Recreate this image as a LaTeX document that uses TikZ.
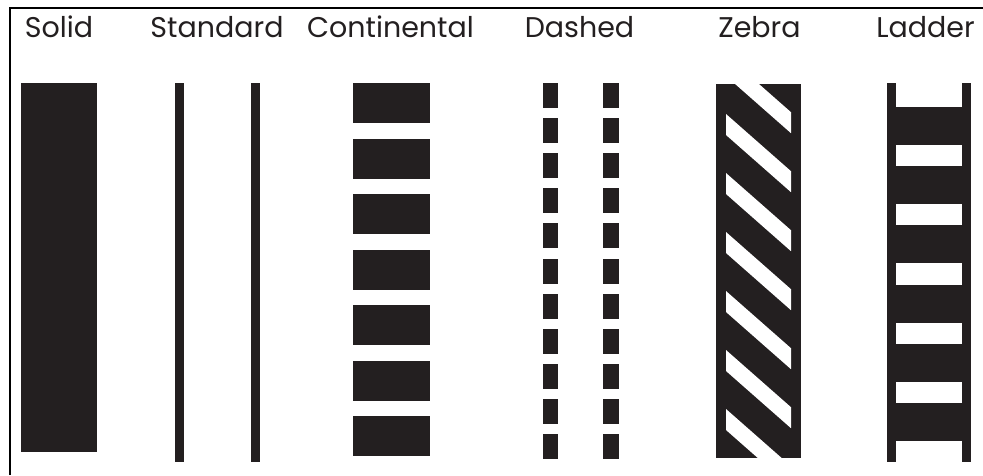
\documentclass[tikz,border=0pt]{standalone}
\usepackage{fontspec}
\setmainfont{Poppins}
\definecolor{ink}{HTML}{231F20}
\begin{document}
\begin{tikzpicture}[x=1pt,y=-1pt,
  paint/.style={fill=ink},
  lbl/.style={anchor=base, inner sep=0pt, font=\fontsize{28.5}{28.5}\selectfont, text=ink},
  frameline/.style={line width=2pt, black}]
\useasboundingbox (0,0) rectangle (983,475);
% frame (only top and left sides visible)
\draw[frameline] (9.5,475) -- (9.5,7.5) -- (983,7.5);
% labels
\node[lbl] (tsolid) at (59,37) {Solid};
\node[lbl] (tstandard) at (217,37) {Standard};
\node[lbl] (tcontinental) at (390.5,37) {Continental};
\node[lbl] (tdashed) at (579.5,37) {Dashed};
\node[lbl] (tzebra) at (759.5,37) {Zebra};
\node[lbl] (tladder) at (925.5,37) {Ladder};
% Solid
\fill[paint] (21,83) rectangle (97,452);
% Standard
\fill[paint] (175,83) rectangle (184,462);
\fill[paint] (251,83) rectangle (260,462);
% Continental
\foreach \i in {0,...,6}
  \fill[paint] (353,{83+55.5*\i}) rectangle (430,{123+55.5*\i});
% Dashed
\foreach \i in {0,...,10} {
  \fill[paint] (543,{83+35.1*\i}) rectangle (558,{108+35.1*\i});
  \fill[paint] (603,{83+35.1*\i}) rectangle (619,{108+35.1*\i});
}
% Zebra
\fill[paint] (716,84) rectangle (801,458);
\begin{scope}
  \clip (726,84) rectangle (791,458);
  \foreach \k in {0,...,6}
    \fill[white] (726,{55+59*\k}) -- (791,{112.2+59*\k}) -- (791,{133.2+59*\k}) -- (726,{76+59*\k}) -- cycle;
\end{scope}
% Ladder
\fill[paint] (887,83) rectangle (896,462);
\fill[paint] (962,83) rectangle (971,462);
\foreach \k in {0,...,5}
  \fill[paint] (896,{107+59.2*\k}) rectangle (962,{145+59.2*\k});
\end{tikzpicture}
\end{document}
